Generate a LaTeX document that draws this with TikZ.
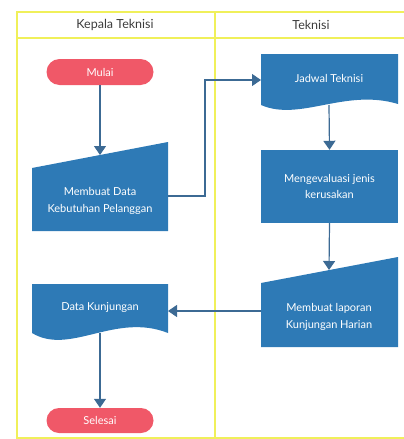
\documentclass[tikz,border=0pt]{standalone}
\usepackage{fontspec}
\setmainfont{Lato}
\usetikzlibrary{shapes.misc,arrows.meta}

\definecolor{biru}{RGB}{46,122,182}
\definecolor{merah}{RGB}{240,88,104}
\definecolor{garis}{RGB}{60,106,148}
\definecolor{kuning}{RGB}{240,240,90}
\definecolor{judul}{RGB}{60,60,60}

\tikzset{
	lajur/.style={draw=kuning, line width=1.6pt},
	kepala/.style={text=judul, font=\fontsize{12.5}{14}\selectfont},
	isi/.style={text=white, align=center, font=\fontsize{11}{16.5}\selectfont},
	terminal/.style={rounded rectangle, fill=merah, isi, minimum width=107pt, minimum height=26pt, inner sep=0pt},
	proses/.style={rectangle, fill=biru, isi, minimum width=137pt, minimum height=73pt, inner sep=0pt},
	panah/.style={draw=garis, line width=1.2pt, -{Triangle[width=12pt,length=9pt]}},
}

\begin{document}
\begin{tikzpicture}[x=1pt,y=-1pt]
	\useasboundingbox (0,0) rectangle (404,439);

	% lajur
	\draw[lajur] (405,12) -- (17,12) -- (17,438) -- (405,438);
	\draw[lajur] (17,38) -- (405,38);
	\draw[lajur] (215,12) -- (215,438);
	\node[kepala] (kepala) at (115,25) {Kepala Teknisi};
	\node[kepala] (teknisi) at (311,25) {Teknisi};

%	\coordinate (    ) at (x, y) ; y turun ke bawah
	\coordinate (buat-n) at (100,155);
	\coordinate (buat-e) at (168,196);
	\coordinate (jadwal-w) at (261,80);
	\coordinate (jadwal-s) at (329,105);
	\coordinate (laporan-n) at (329,270);
	\coordinate (laporan-w) at (261,311);
	\coordinate (data-e) at (168,311);
	\coordinate (data-s) at (100,333);

	% manual input dan dokumen
	\fill[biru] (32,168) -- (168,142) -- (168,231) -- (32,231) -- cycle;
	\fill[biru] (261,283) -- (398,257) -- (398,347) -- (261,347) -- cycle;
	\fill[biru] (261,54) -- (398,54) -- (398,104) .. controls (345,88) and (300,122) .. (261,105) -- cycle;
	\fill[biru] (32,284) -- (168,284) -- (168,333) .. controls (115,312) and (70,356) .. (32,333) -- cycle;

	\node[terminal] (mulai) at (100,72) {Mulai};
	\node[isi] (buat) at (100,201) {Membuat Data\\Kebutuhan Pelanggan};
	\node[isi] (jadwal) at (329,78) {Jadwal Teknisi};
	\node[proses] (evaluasi) at (329.5,186.5) {Mengevaluasi jenis\\kerusakan};
	\node[isi] (laporan) at (329,317) {Membuat laporan\\Kunjungan Harian};
	\node[isi] (data) at (100,307) {Data Kunjungan};
	\node[terminal, minimum height=25pt] (selesai) at (100,420.5) {Selesai};

	% panah
	\draw[panah] (mulai.south) -- (buat-n);
	\draw[panah] (buat-e) -- ++(37,0) |- (jadwal-w);
	\draw[panah] (jadwal-s) -- (evaluasi.north);
	\draw[panah] (evaluasi.south) -- (laporan-n);
	\draw[panah] (laporan-w) -- (data-e);
	\draw[panah] (data-s) -- (selesai.north);
\end{tikzpicture}
\end{document}
